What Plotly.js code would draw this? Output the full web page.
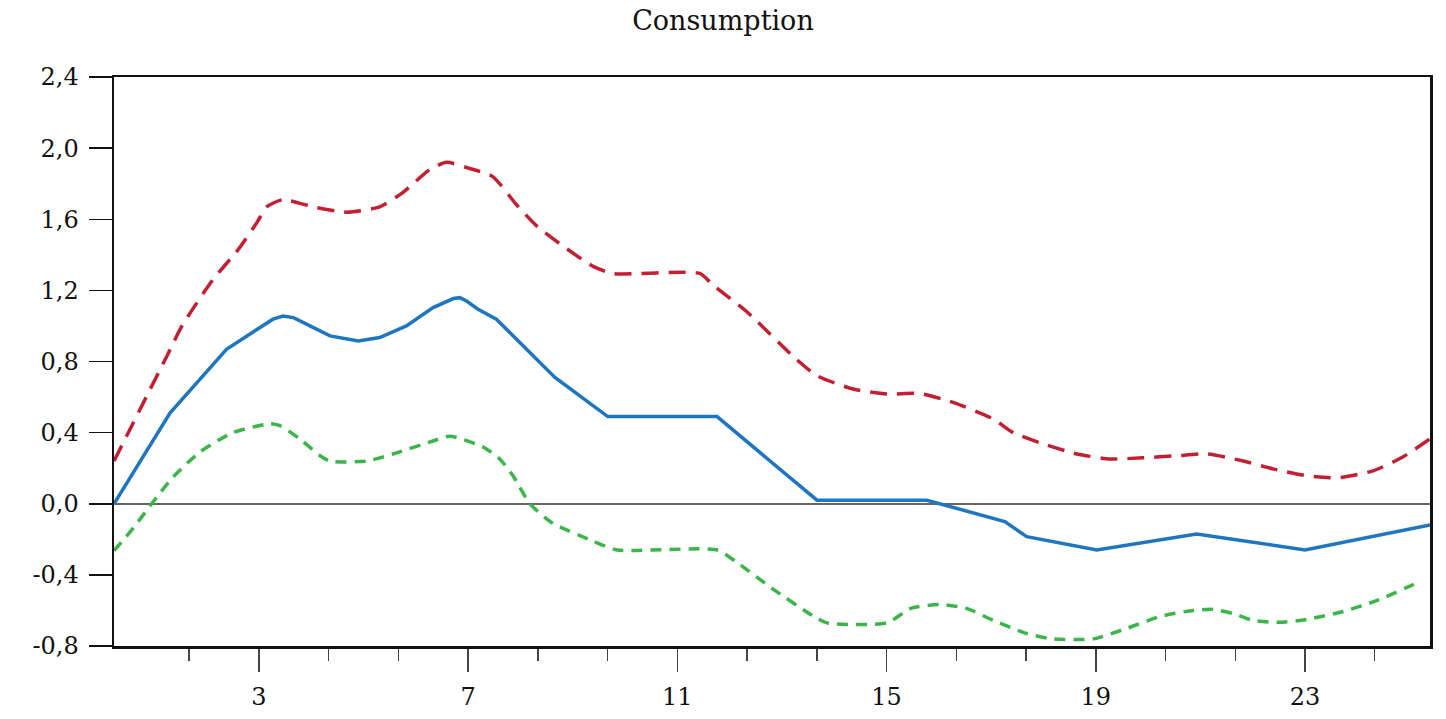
<!DOCTYPE html>
<html>
<head>
<meta charset="utf-8">
<script src="https://cdn.plot.ly/plotly-3.0.1.min.js"></script>
<style>
  html, body { margin: 0; padding: 0; background: #fff; }
  #chart { width: 1446px; height: 719px; }
</style>
</head>
<body>
<div id="chart"></div>
<script>
// impulse response of consumption (period, value)
var respX = [0.23, 1.30, 2.38, 2.83, 3.27, 3.46, 3.66, 3.91, 4.36, 4.90, 5.31, 5.82, 6.33, 6.72, 6.84, 6.97, 7.19, 7.54, 8.66, 9.67, 11.76, 13.67, 15.77, 17.26, 17.68, 19.02, 20.93, 23.0, 25.39];
var respY = [0.0, 0.51, 0.869, 0.953, 1.038, 1.056, 1.047, 1.01, 0.944, 0.916, 0.935, 1.0, 1.103, 1.154, 1.159, 1.14, 1.094, 1.038, 0.71, 0.49, 0.49, 0.02, 0.02, -0.10, -0.185, -0.26, -0.17, -0.26, -0.12];

var upperX = [0.23, 1.24, 1.53, 2.12, 2.58, 2.96, 3.15, 3.46, 4.03, 4.68, 5.31, 5.75, 6.27, 6.59, 6.98, 7.47, 7.93, 8.32, 8.81, 9.39, 9.77, 11.43, 11.68, 12.33, 13.21, 13.67, 14.36, 15.01, 15.64, 16.27, 17.04, 17.42, 17.99, 18.64, 19.27, 19.90, 20.55, 21.13, 21.82, 22.39, 23.04, 23.61, 24.30, 24.87, 25.39];
var upperY = [0.24, 0.83, 1.0, 1.26, 1.42, 1.58, 1.67, 1.71, 1.67, 1.64, 1.67, 1.75, 1.88, 1.92, 1.89, 1.84, 1.68, 1.56, 1.45, 1.335, 1.295, 1.295, 1.23, 1.08, 0.83, 0.72, 0.645, 0.617, 0.62, 0.57, 0.477, 0.40, 0.337, 0.28, 0.252, 0.258, 0.27, 0.28, 0.24, 0.196, 0.157, 0.146, 0.185, 0.263, 0.365];

var lowerX = [0.23, 0.59, 0.95, 1.36, 1.87, 2.50, 3.21, 3.40, 3.78, 4.17, 4.36, 5.06, 5.56, 6.33, 6.65, 7.28, 7.61, 7.86, 8.18, 8.62, 9.39, 9.85, 11.76, 12.14, 12.83, 13.59, 13.86, 15.01, 15.45, 16.02, 16.54, 17.04, 17.68, 18.18, 18.95, 19.60, 20.23, 20.86, 21.24, 21.62, 22.01, 22.52, 23.04, 23.73, 24.38, 25.20];
var lowerY = [-0.264, -0.14, 0.0, 0.15, 0.29, 0.40, 0.45, 0.44, 0.365, 0.27, 0.24, 0.24, 0.28, 0.353, 0.38, 0.32, 0.25, 0.157, 0.0, -0.11, -0.21, -0.26, -0.26, -0.33, -0.48, -0.63, -0.67, -0.67, -0.59, -0.566, -0.59, -0.656, -0.73, -0.76, -0.76, -0.70, -0.634, -0.60, -0.594, -0.617, -0.656, -0.667, -0.65, -0.606, -0.544, -0.437];

var xTicks = [3, 7, 11, 15, 19, 23];
var xMinorTicks = [1.667, 4.333, 5.667, 8.333, 9.667, 12.333, 13.667, 16.333, 17.667, 20.333, 21.667, 24.333];
var yTicks = [-0.8, -0.4, 0.0, 0.4, 0.8, 1.2, 1.6, 2.0, 2.4];

var serif = "DejaVu Serif, Liberation Serif, serif";

var data = [
  {
    x: upperX, y: upperY, type: 'scatter', mode: 'lines',
    line: { color: '#c21f30', width: 3.5, dash: '17px,10px', shape: 'spline', smoothing: 0.6 },
    hoverinfo: 'skip'
  },
  {
    x: lowerX, y: lowerY, type: 'scatter', mode: 'lines',
    line: { color: '#3bb54a', width: 3.5, dash: '11px,8px', shape: 'spline', smoothing: 0.6 },
    hoverinfo: 'skip'
  },
  {
    x: respX, y: respY, type: 'scatter', mode: 'lines',
    line: { color: '#1f76c0', width: 3.5 },
    hoverinfo: 'skip'
  }
];

var layout = {
  width: 1446,
  height: 719,
  showlegend: false,
  separators: ',.',
  paper_bgcolor: '#ffffff',
  plot_bgcolor: '#ffffff',
  margin: { l: 114, r: 16, t: 77, b: 73 },
  font: { family: serif, size: 24, color: '#111' },
  title: {
    text: 'Consumption',
    font: { family: serif, size: 27, color: '#111' },
    x: 0.5, xref: 'container', xanchor: 'center',
    y: 0.972, yref: 'container', yanchor: 'middle'
  },
  xaxis: {
    range: [0.23, 25.39],
    tickmode: 'array',
    tickvals: xTicks,
    ticktext: xTicks.map(String),
    ticks: 'outside',
    ticklen: 23,
    tickwidth: 1.5,
    tickcolor: '#444',
    ticklabelstandoff: 5,
    minor: { tickmode: 'array', tickvals: xMinorTicks, ticks: 'outside', ticklen: 12, tickwidth: 1.5, tickcolor: '#444', showgrid: false },
    showgrid: false,
    zeroline: false,
    showline: true,
    linecolor: '#111',
    linewidth: 2.5,
    mirror: true,
    fixedrange: true
  },
  yaxis: {
    range: [-0.8, 2.4],
    tickmode: 'array',
    tickvals: yTicks,
    ticktext: yTicks.map(function (v) { return v.toFixed(1).replace('.', ','); }),
    ticks: 'outside',
    ticklen: 23,
    tickwidth: 1.5,
    tickcolor: '#111',
    ticklabelstandoff: 5,
    showgrid: false,
    zeroline: true,
    zerolinecolor: '#666',
    zerolinewidth: 1.5,
    showline: true,
    linecolor: '#111',
    linewidth: 2.5,
    mirror: true,
    fixedrange: true
  }
};

Plotly.newPlot('chart', data, layout, { displayModeBar: false, staticPlot: true });
</script>
</body>
</html>
